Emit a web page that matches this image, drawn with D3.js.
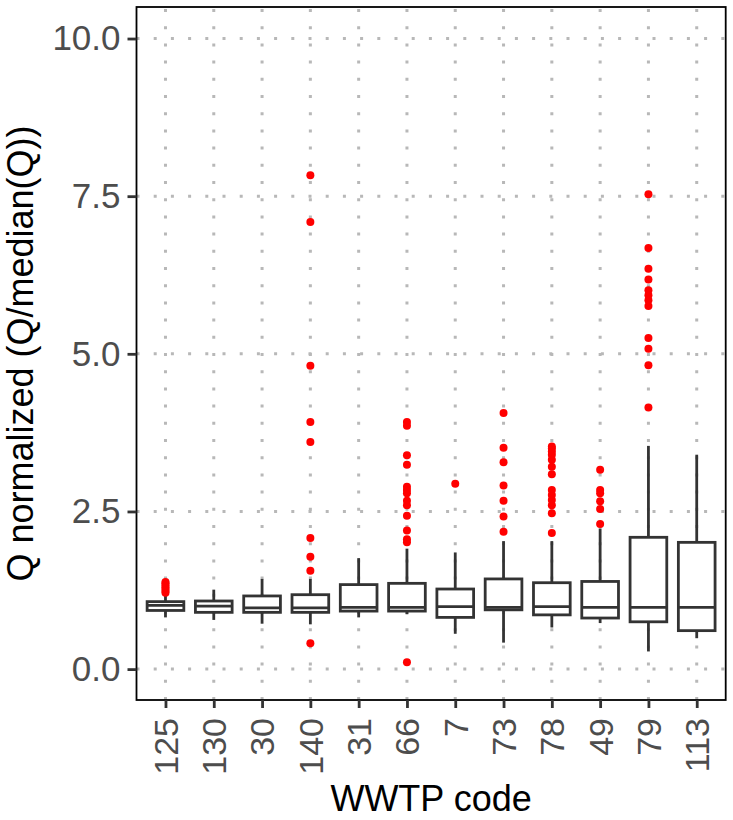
<!DOCTYPE html>
<html>
<head>
<meta charset="utf-8">
<script src="https://cdn.jsdelivr.net/npm/d3@7"></script>
<style>
  body { margin: 0; background: #fff; }
  text { font-family: "Liberation Sans", Arial, sans-serif; }
</style>
</head>
<body>
<script>
// boxplot stats per WWTP
const codes = ['125', '130', '30', '140', '31', '66', '7', '73', '78', '49', '79', '113']
const lowerWhisker = [0.82, 0.78, 0.72, 0.71, 0.82, 0.87, 0.56, 0.42, 0.66, 0.73, 0.28, 0.49]
const q1 = [0.93, 0.90, 0.90, 0.90, 0.92, 0.92, 0.82, 0.94, 0.86, 0.81, 0.75, 0.61]
const medians = [1.01, 1.00, 0.97, 0.97, 0.98, 0.98, 0.99, 0.98, 0.99, 0.98, 0.98, 0.98]
const q3 = [1.07, 1.08, 1.16, 1.18, 1.34, 1.36, 1.27, 1.43, 1.37, 1.39, 2.09, 2.01]
const upperWhisker = [1.19, 1.26, 1.43, 1.43, 1.76, 1.91, 1.85, 2.03, 2.03, 2.23, 3.54, 3.40]
const outliers = [
    [1.21, 1.24, 1.27, 1.30, 1.33, 1.36, 1.38],
    [],
    [],
    [7.83, 7.09, 4.81, 3.92, 3.60, 2.08, 1.78, 1.56, 0.41],
    [],
    [3.92, 3.86, 3.39, 3.24, 2.89, 2.84, 2.79, 2.67, 2.60, 2.43, 2.20, 2.06, 2.01, 0.11],
    [2.94],
    [4.06, 3.51, 3.28, 2.91, 2.67, 2.42, 2.18],
    [3.53, 3.50, 3.45, 3.40, 3.32, 3.21, 3.09, 2.84, 2.76, 2.68, 2.60, 2.47, 2.16],
    [3.16, 2.84, 2.79, 2.66, 2.54, 2.30],
    [7.53, 6.68, 6.35, 6.18, 6.01, 5.93, 5.85, 5.76, 5.25, 5.08, 4.82, 4.15],
    []
]
const yTicks = [0, 2.5, 5, 7.5, 10]

const m = {
    width: 733,
    height: 820,
    left: 136.5,
    right: 725.7,
    top: 7,
    bottom: 700
}

const svg = d3.select('body').append('svg')
    .attr('width', m.width)
    .attr('height', m.height)

const x = d3.scalePoint()
    .domain(codes)
    .range([m.left, m.right])
    .padding(0.6)

const y = d3.scaleLinear()
    .domain([-0.49, 10.5])
    .range([m.bottom, m.top])

const boxW = x.step() * 0.76
const dark = '#333333'
const lw = 2.8

// dotted grid
const grid = svg.append('g')
    .attr('stroke', '#b8b8b8')
    .attr('stroke-width', 3)
    .attr('stroke-dasharray', '3,14.2')

grid.selectAll('.hgrid')
    .data(yTicks)
    .enter()
    .append('line')
        .attr('x1', m.left)
        .attr('x2', m.right)
        .attr('y1', d => y(d))
        .attr('y2', d => y(d))

grid.selectAll('.vgrid')
    .data(codes)
    .enter()
    .append('line')
        .attr('x1', d => x(d))
        .attr('x2', d => x(d))
        .attr('y1', m.bottom)
        .attr('y2', m.top)

// boxes
const stats = codes.map((c, i) => ({
    code: c, lo: lowerWhisker[i], q1: q1[i], med: medians[i], q3: q3[i], hi: upperWhisker[i], out: outliers[i]
}))

const box = svg.append('g').selectAll('g')
    .data(stats)
    .enter()
    .append('g')

box.append('line')
    .attr('x1', d => x(d.code))
    .attr('x2', d => x(d.code))
    .attr('y1', d => y(d.hi))
    .attr('y2', d => y(d.q3))
    .attr('stroke', dark)
    .attr('stroke-width', lw)

box.append('line')
    .attr('x1', d => x(d.code))
    .attr('x2', d => x(d.code))
    .attr('y1', d => y(d.q1))
    .attr('y2', d => y(d.lo))
    .attr('stroke', dark)
    .attr('stroke-width', lw)

box.append('rect')
    .attr('x', d => x(d.code) - boxW / 2)
    .attr('width', boxW)
    .attr('y', d => y(d.q3))
    .attr('height', d => y(d.q1) - y(d.q3))
    .attr('fill', 'white')
    .attr('stroke', dark)
    .attr('stroke-width', lw)

box.append('line')
    .attr('x1', d => x(d.code) - boxW / 2)
    .attr('x2', d => x(d.code) + boxW / 2)
    .attr('y1', d => y(d.med))
    .attr('y2', d => y(d.med))
    .attr('stroke', dark)
    .attr('stroke-width', lw)

box.selectAll('circle')
    .data(d => d.out.map(v => ({ code: d.code, v: v })))
    .enter()
    .append('circle')
        .attr('cx', d => x(d.code))
        .attr('cy', d => y(d.v))
        .attr('r', 4)
        .attr('fill', '#ff0000')

// panel border
svg.append('rect')
    .attr('x', m.left)
    .attr('y', m.top)
    .attr('width', m.right - m.left)
    .attr('height', m.bottom - m.top)
    .attr('fill', 'none')
    .attr('stroke', 'black')
    .attr('stroke-width', 1.8)

// y axis
const yAxis = svg.append('g')
    .attr('transform', `translate(${m.left},0)`)
    .call(d3.axisLeft(y).tickValues(yTicks).tickFormat(d3.format('.1f')).tickSize(9).tickPadding(7))

yAxis.select('.domain').remove()
yAxis.selectAll('.tick line')
    .attr('stroke', dark)
    .attr('stroke-width', lw)
yAxis.selectAll('.tick text')
    .attr('font-size', '35px')
    .attr('fill', '#4d4d4d')
    .attr('font-family', '"Liberation Sans", Arial, sans-serif')

// x axis
const xAxis = svg.append('g')
    .attr('transform', `translate(0,${m.bottom})`)
    .call(d3.axisBottom(x).tickSize(8).tickPadding(6))

xAxis.select('.domain').remove()
xAxis.selectAll('.tick line')
    .attr('stroke', dark)
    .attr('stroke-width', lw)
xAxis.selectAll('.tick text')
    .attr('font-size', '34px')
    .attr('fill', '#4d4d4d')
    .attr('font-family', '"Liberation Sans", Arial, sans-serif')
    .attr('transform', 'rotate(-90)')
    .attr('text-anchor', 'end')
    .attr('x', -18)
    .attr('y', 0)
    .attr('dy', '0.35em')

// titles
svg.append('text')
    .attr('x', (m.left + m.right) / 2)
    .attr('y', 811)
    .attr('text-anchor', 'middle')
    .attr('font-size', '36px')
    .text('WWTP code')

svg.append('text')
    .attr('transform', `translate(33,${(m.top + m.bottom) / 2}) rotate(-90)`)
    .attr('text-anchor', 'middle')
    .attr('font-size', '36px')
    .text('Q normalized (Q/median(Q))')
</script>
</body>
</html>
